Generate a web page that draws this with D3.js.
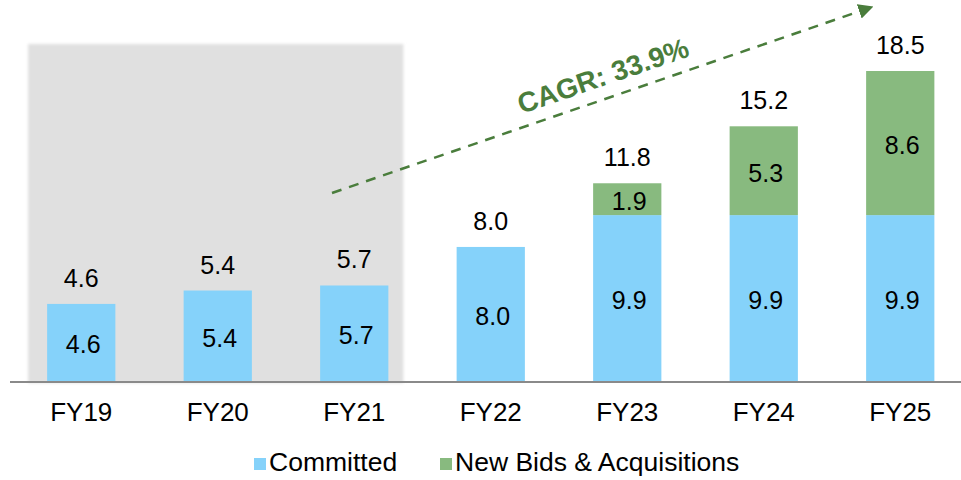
<!DOCTYPE html>
<html>
<head>
<meta charset="utf-8">
<script src="https://cdn.jsdelivr.net/npm/d3@7"></script>
<style>
  html, body { margin: 0; padding: 0; background: #fff; }
  svg { display: block; font-family: Arial, "Liberation Sans", sans-serif; }
</style>
</head>
<body>
<script>
// data
const years = ["FY19", "FY20", "FY21", "FY22", "FY23", "FY24", "FY25"];
const committed = [4.6, 5.4, 5.7, 8.0, 9.9, 9.9, 9.9];
const newBids = [0, 0, 0, 0, 1.9, 5.3, 8.6];
const totals = [4.6, 5.4, 5.7, 8.0, 11.8, 15.2, 18.5];
const seriesNames = ["Committed", "New Bids & Acquisitions"];
const cagrLabel = "CAGR: 33.9%";
const historicYears = ["FY19", "FY20", "FY21"];

const width = 961, height = 480;
const baseY = 381;
const colors = { committed: "#85d2fa", newBids: "#88ba7f" };
const green = "#4a7d3c";

const svg = d3.select("body").append("svg")
  .attr("width", width).attr("height", height);

const defs = svg.append("defs");
defs.append("filter").attr("id", "soft")
  .attr("x", "-5%").attr("y", "-5%").attr("width", "110%").attr("height", "110%")
  .append("feGaussianBlur").attr("stdDeviation", 1.5);
defs.append("marker").attr("id", "arrow")
  .attr("viewBox", "0 0 10 10").attr("refX", 9).attr("refY", 5)
  .attr("markerWidth", 6).attr("markerHeight", 6)
  .attr("markerUnits", "strokeWidth")
  .attr("orient", "auto")
  .append("path").attr("d", "M0,0 L10,5 L0,10 Z").attr("fill", green);

const x = d3.scaleBand()
  .domain(years)
  .range([13, 968.5])
  .paddingInner(0.5)
  .paddingOuter(0.25);

const y = d3.scaleLinear()
  .domain([0, 18.5])
  .range([baseY, 71]);

// grey box behind historic years
const hx0 = x(historicYears[0]) - 19;
const hx1 = x(historicYears[historicYears.length - 1]) + x.bandwidth() + 15;
svg.append("rect")
  .attr("x", hx0).attr("y", 44)
  .attr("width", hx1 - hx0).attr("height", baseY - 44 + 2)
  .attr("fill", "#e0e0e0")
  .attr("filter", "url(#soft)");

// stacked bars
const table = years.map((yr, i) => ({ year: yr, committed: committed[i], newBids: newBids[i] }));
const stack = d3.stack().keys(["committed", "newBids"]);
const series = stack(table);

const groups = svg.selectAll("g.series")
  .data(series)
  .enter().append("g")
  .attr("class", "series")
  .attr("fill", d => colors[d.key]);

groups.selectAll("rect")
  .data(d => d)
  .enter().append("rect")
  .attr("x", d => x(d.data.year))
  .attr("y", d => y(d[1]))
  .attr("width", x.bandwidth())
  .attr("height", d => y(d[0]) - y(d[1]));

// labels inside segments
groups.selectAll("text")
  .data(d => d.filter(s => s[1] - s[0] > 0))
  .enter().append("text")
  .attr("x", d => x(d.data.year) + x.bandwidth() / 2 + 2)
  .attr("y", d => (y(d[0]) + y(d[1])) / 2 + 11)
  .attr("text-anchor", "middle")
  .attr("font-size", 25)
  .attr("fill", "#000")
  .text(d => d3.format(".1f")(d[1] - d[0]));

// totals above bars
svg.selectAll("text.total")
  .data(years)
  .enter().append("text")
  .attr("class", "total")
  .attr("x", (d, i) => x(d) + x.bandwidth() / 2)
  .attr("y", (d, i) => y(totals[i]) - 17)
  .attr("text-anchor", "middle")
  .attr("font-size", 25)
  .attr("fill", "#000")
  .text((d, i) => d3.format(".1f")(totals[i]));

// axis
const axis = svg.append("g")
  .attr("transform", "translate(0," + (baseY + 1) + ")")
  .call(d3.axisBottom(x).tickSize(0).tickPadding(21));
axis.select(".domain").remove();
axis.append("line")
  .attr("x1", 10).attr("x2", width)
  .attr("stroke", "#8a8a8a").attr("stroke-width", 2);
axis.selectAll(".tick text")
  .attr("font-size", 26)
  .attr("font-family", "Arial, 'Liberation Sans', sans-serif")
  .attr("fill", "#000")
  .attr("dy", "0.71em");

// CAGR arrow
svg.append("line")
  .attr("x1", 332).attr("y1", 193)
  .attr("x2", 872).attr("y2", 7)
  .attr("stroke", green).attr("stroke-width", 2.5)
  .attr("stroke-dasharray", "10,8")
  .attr("marker-end", "url(#arrow)");

svg.append("text")
  .attr("transform", "translate(603,76) rotate(-19)")
  .attr("text-anchor", "middle")
  .attr("dominant-baseline", "central")
  .attr("font-size", 28)
  .attr("font-weight", "bold")
  .attr("fill", green)
  .text(cagrLabel);

// legend
const legendX = [254, 440];
const legend = svg.selectAll("g.legend")
  .data(seriesNames)
  .enter().append("g")
  .attr("class", "legend")
  .attr("transform", (d, i) => "translate(" + legendX[i] + ",458)");
legend.append("rect")
  .attr("width", 12).attr("height", 12)
  .attr("fill", (d, i) => i === 0 ? colors.committed : colors.newBids);
legend.append("text")
  .attr("x", 15).attr("y", 13)
  .attr("font-size", 26.5)
  .attr("fill", "#000")
  .text(d => d);
</script>
</body>
</html>
